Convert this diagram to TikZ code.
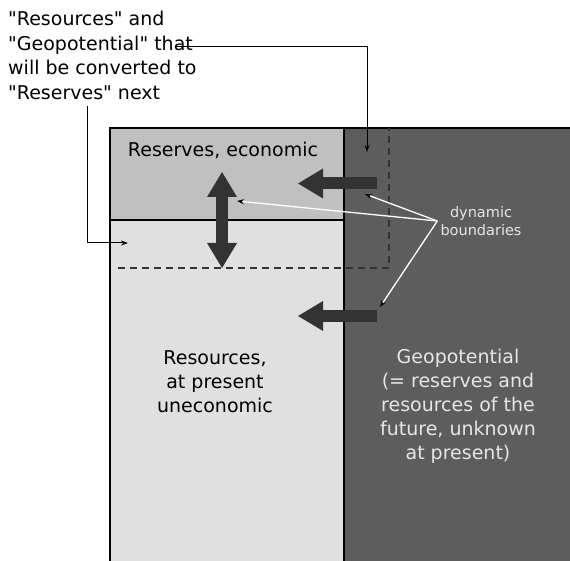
\documentclass[tikz,border=0pt]{standalone}
\usepackage{fontspec}
\setmainfont{DejaVu Sans}[Ligatures=TeXOff]
\usetikzlibrary{arrows.meta}
\definecolor{reservegray}{HTML}{C0C0C0}
\definecolor{resourcegray}{HTML}{E0E0E0}
\definecolor{geogray}{HTML}{5D5D5D}
\definecolor{arrowgray}{HTML}{333333}
\definecolor{lighttext}{HTML}{E6E6E6}
\begin{document}
\begin{tikzpicture}[x=1pt, y=-1pt]
    \tikzset{areatext/.style={align=center, inner sep=0pt, font=\fontsize{19}{24}\selectfont}}
    \tikzset{fatarrow/.style={line width=12pt, draw=arrowgray}}
    \tikzset{thinarrow/.style={draw=black, line width=1pt, -{Stealth[length=7pt, width=5pt]}}}
    \tikzset{whitearrow/.style={draw=white, line width=1.3pt, -{Stealth[length=7pt, width=5pt, black]}}}
    \useasboundingbox (0,0) rectangle (570,561);

    % the three areas
    \fill[reservegray] (110,128) rectangle (344,220);
    \fill[resourcegray] (110,220) rectangle (344,575);
    \fill[geogray] (344,128) rectangle (580,575);
    \draw[line width=1.4pt] (110,575) -- (110,128) -- (580,128);
    \draw[line width=1.4pt] (344,128) -- (344,575);
    \draw[line width=1.4pt] (110,220) -- (344,220);

    % what is converted next
    \draw[dashed, dash pattern=on 7pt off 5pt, draw=arrowgray, line width=1.1pt] (118,268) -| (389,128);

    \node[areatext] (Reserves) at (223,150) {Reserves, economic};
    \node[areatext] (Resources) at (215,382) {Resources,\\at present\\uneconomic};
    \node[areatext, text=lighttext] (Geopotential) at (458,406) {Geopotential\\(= reserves and\\resources of the\\future, unknown\\at present)};
    \node[align=left, anchor=north west, inner sep=0pt, font=\fontsize{19}{24.5}\selectfont] (Note) at (8,11) {"Resources" and\\"Geopotential" that\\will be converted to\\"Reserves" next};
    \node[align=center, inner sep=3pt, text=lighttext, font=\fontsize{14.5}{17.5}\selectfont] (Dynamic) at (481,221) {dynamic\\boundaries};

    % fat arrows
    \coordinate (TopFrom) at (377,183.5);
    \coordinate (TopTip) at (298,183.5);
    \coordinate (LowFrom) at (377,316);
    \coordinate (LowTip) at (298,316);
    \coordinate (UpTip) at (222,172);
    \coordinate (DownTip) at (222,268);
    \draw[fatarrow, -{Triangle[length=25pt, width=30pt, line width=0pt]}] (TopFrom) -- (TopTip);
    \draw[fatarrow, -{Triangle[length=25pt, width=30pt, line width=0pt]}] (LowFrom) -- (LowTip);
    \draw[fatarrow, {Triangle[length=25pt, width=30pt, line width=0pt]}-{Triangle[length=25pt, width=30pt, line width=0pt]}] (UpTip) -- (DownTip);

    % pointers to the boundaries
    \coordinate (BoundA) at (365,194);
    \coordinate (BoundB) at (237,201);
    \coordinate (BoundC) at (380,307);
    \foreach \b in {BoundA,BoundB,BoundC}{
        \draw[whitearrow] (Dynamic.west) -- (\b);
    }

    % from the note to the two areas
    \coordinate (NoteRight) at (176,47);
    \coordinate (NoteBelow) at (87,106);
    \coordinate (GeoNext) at (367,152);
    \coordinate (ResNext) at (128,243);
    \draw[thinarrow] (NoteRight) -| (GeoNext);
    \draw[thinarrow] (NoteBelow) |- (ResNext);
\end{tikzpicture}
\end{document}
